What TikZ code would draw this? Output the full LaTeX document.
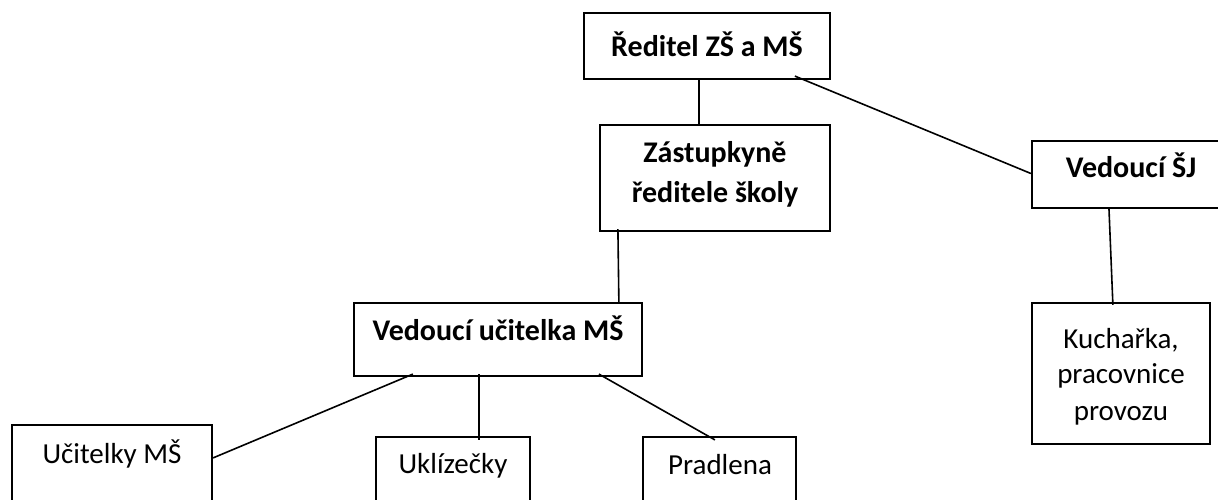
\documentclass[tikz,border=0pt]{standalone}
\usepackage{fontspec}
\setmainfont{Carlito}
\begin{document}
\begin{tikzpicture}[x=1pt,y=-1pt,
  box/.style={draw=black, line width=2.2pt, inner sep=0pt},
  link/.style={draw=black, line width=1.6pt},
  bt/.style={font=\fontsize{30}{37}\selectfont\bfseries, inner sep=0pt, anchor=base},
  rt/.style={font=\fontsize{29}{36}\selectfont, inner sep=0pt, anchor=base}]
\useasboundingbox (0,0) rectangle (1218,500);
\fill[white] (0,0) rectangle (1218,500);
% boxes
\node[box, minimum width=246pt, minimum height=66pt] (r) at (707,46) {};
\node[box, minimum width=230pt, minimum height=106pt] (z) at (715,178) {};
\node[box, minimum width=198pt, minimum height=67pt] (sj) at (1131,174.5) {};
\node[box, minimum width=178pt, minimum height=141pt] (k) at (1121,373.5) {};
\node[box, minimum width=288pt, minimum height=73pt] (vu) at (498,339.5) {};
\node[box, minimum width=200pt, minimum height=105pt] (u) at (112,477.5) {};
\node[box, minimum width=154pt, minimum height=93pt] (uk) at (453,483.5) {};
\node[box, minimum width=153pt, minimum height=93pt] (p) at (719.5,483.5) {};
% texts
\node[bt] (rt1) at (707,57) {Ředitel ZŠ a MŠ};
\node[bt] (zt1) at (715,162) {Zástupkyně};
\node[bt] (zt2) at (715,202) {ředitele školy};
\node[bt] (sjt1) at (1131,177) {Vedoucí ŠJ};
\node[rt] (kt1) at (1121,348) {Kuchařka,};
\node[rt] (kt2) at (1121,383) {pracovnice};
\node[rt] (kt3) at (1121,420) {provozu};
\node[bt] (vut1) at (498,340) {Vedoucí učitelka MŠ};
\node[rt] (ut1) at (112,463) {Učitelky MŠ};
\node[rt] (ukt1) at (453,473) {Uklízečky};
\node[rt] (pt1) at (720,474) {Pradlena};
% connectors
\draw[link] ([xshift=116pt]r.south west) -- ([xshift=100pt]z.north west);
\draw[link] ([xshift=212pt,yshift=4pt]r.south west) -- ([yshift=1pt]sj.west);
\draw[link] ([xshift=19pt,yshift=3pt]z.south west) -- ([xshift=266pt,yshift=-2pt]vu.north west);
\draw[link] ([xshift=78pt,yshift=2pt]sj.south west) -- ([xshift=82pt,yshift=-3pt]k.north west);
\draw[link] ([xshift=60pt,yshift=3pt]vu.south west) -- ([yshift=-34pt]u.north east);
\draw[link] ([xshift=126pt,yshift=3pt]vu.south west) -- ([xshift=104pt,yshift=-4pt]uk.north west);
\draw[link] ([xshift=246pt,yshift=3pt]vu.south west) -- ([xshift=73pt,yshift=-4pt]p.north west);
\end{tikzpicture}
\end{document}
